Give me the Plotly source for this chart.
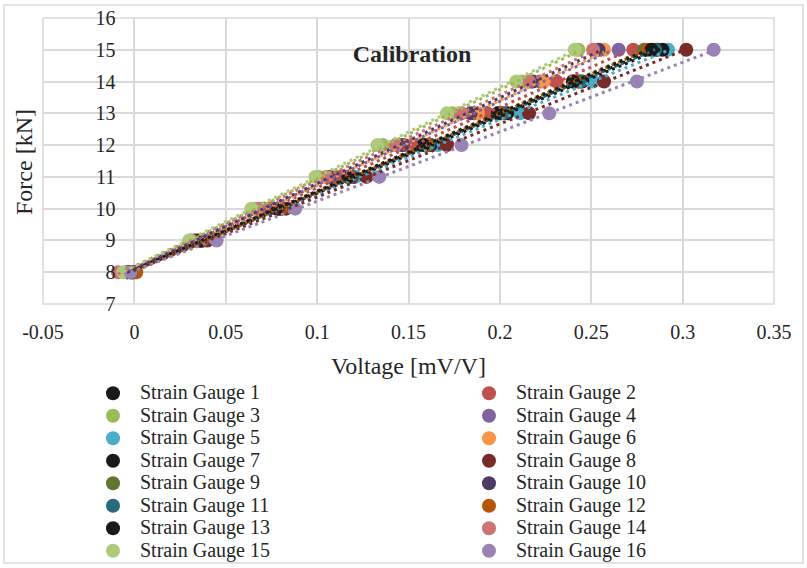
import numpy as np
import plotly.graph_objects as go

force_kN = [8, 9, 10, 11, 12, 13, 14, 15]

x_tick_vals = [-0.05, 0, 0.05, 0.1, 0.15, 0.2, 0.25, 0.3, 0.35]
x_tick_text = ["-0.05", "0", "0.05", "0.1", "0.15", "0.2", "0.25", "0.3", "0.35"]

gauge_names = [f"Strain Gauge {i}" for i in range(1, 17)]
sg1 = [-0.001, 0.036, 0.079, 0.118, 0.160, 0.201, 0.243, 0.286]
sg2 = [-0.004, 0.035, 0.074, 0.112, 0.152, 0.193, 0.231, 0.273]
sg3 = [-0.004, 0.031, 0.066, 0.101, 0.136, 0.174, 0.212, 0.243]
sg4 = [-0.003, 0.034, 0.071, 0.108, 0.146, 0.186, 0.222, 0.265]
sg5 = [-0.001, 0.038, 0.081, 0.121, 0.166, 0.211, 0.251, 0.292]
sg6 = [-0.001, 0.034, 0.071, 0.107, 0.148, 0.188, 0.224, 0.257]
sg7 = [0.000, 0.037, 0.080, 0.119, 0.162, 0.204, 0.245, 0.289]
sg8 = [-0.001, 0.040, 0.083, 0.127, 0.171, 0.216, 0.257, 0.302]
sg9 = [-0.002, 0.036, 0.078, 0.117, 0.159, 0.199, 0.240, 0.279]
sg10 = [-0.004, 0.033, 0.070, 0.107, 0.147, 0.184, 0.218, 0.254]
sg11 = [-0.002, 0.037, 0.079, 0.119, 0.161, 0.202, 0.244, 0.285]
sg12 = [0.001, 0.037, 0.080, 0.118, 0.160, 0.200, 0.241, 0.281]
sg13 = [-0.002, 0.036, 0.078, 0.117, 0.158, 0.199, 0.240, 0.283]
sg14 = [-0.009, 0.031, 0.068, 0.105, 0.143, 0.179, 0.216, 0.251]
sg15 = [-0.006, 0.030, 0.064, 0.099, 0.133, 0.171, 0.209, 0.241]
sg16 = [-0.002, 0.045, 0.088, 0.134, 0.179, 0.227, 0.275, 0.317]
voltages = [sg1, sg2, sg3, sg4, sg5, sg6, sg7, sg8,
            sg9, sg10, sg11, sg12, sg13, sg14, sg15, sg16]

colors = ["#1a1a1a", "#C0504D", "#9BBB59", "#8064A2", "#4BACC6", "#F79646",
          "#1a1a1a", "#772C2A", "#5F7530", "#4D3B62", "#276A7C", "#B65708",
          "#1a1a1a", "#CD7371", "#AFC97A", "#9983B5"]

FONT = "Liberation Serif, Times New Roman, serif"
TXT = "#262626"
GRID = "#d9d9d9"

fig = go.Figure()
for i, (name, v, c) in enumerate(zip(gauge_names, voltages, colors)):
    fig.add_trace(go.Scatter(
        x=v, y=force_kN, mode="markers",
        name=f'<span style="font-size:20px">{name}</span>',
        legend="legend" if i % 2 == 0 else "legend2",
        marker=dict(size=14, color=c, line=dict(width=0)),
    ))
for name, v, c in zip(gauge_names, voltages, colors):
    m, b = np.polyfit(v, force_kN, 1)
    xs = np.array([min(v), max(v)])
    fig.add_trace(go.Scatter(
        x=xs, y=m * xs + b, mode="lines", showlegend=False, hoverinfo="skip",
        line=dict(color=c, width=3, dash="3px,4px"),
    ))

legend_common = dict(orientation="v", yanchor="top", xanchor="left",
                     y=(304 - 377) / 286, itemwidth=44,
                     font=dict(size=15, family=FONT, color=TXT),
                     bgcolor="rgba(0,0,0,0)", tracegroupgap=0)

fig.update_layout(
    width=807, height=568,
    template="none",
    paper_bgcolor="white", plot_bgcolor="white",
    margin=dict(l=43, r=33, t=18, b=264, autoexpand=False),
    font=dict(family=FONT, color=TXT, size=20),
    title=dict(text="<b>Calibration</b>", x=(412 - 43) / 731, xref="paper",
               y=(304 - 54) / 286, yref="paper", xanchor="center", yanchor="middle",
               font=dict(family=FONT, size=24, color=TXT)),
    xaxis=dict(range=[-0.05, 0.35], tickmode="array", tickvals=x_tick_vals,
               ticktext=x_tick_text, showgrid=True, gridcolor=GRID,
               gridwidth=1.5, zeroline=True, zerolinecolor=GRID, zerolinewidth=1.5,
               showline=False, ticks="", ticklabelstandoff=14,
               tickfont=dict(size=20, family=FONT, color=TXT),
               title=dict(text="Voltage [mV/V]", standoff=15,
                          font=dict(size=24, family=FONT, color=TXT)),
               automargin=False),
    yaxis=dict(range=[7, 16], dtick=1, showgrid=True, gridcolor=GRID, gridwidth=1.5,
               zeroline=False, showline=False, ticks="", anchor="free", position=0.125,
               ticklabelstandoff=19, tickfont=dict(size=20, family=FONT, color=TXT),
               automargin=False),
    showlegend=True,
    legend=dict(x=(86 - 43) / 731, **legend_common),
    legend2=dict(x=(462 - 43) / 731, **legend_common),
    annotations=[dict(text="Force [kN]", xref="paper", yref="paper",
                      x=(24 - 43) / 731, y=(304 - 162) / 286, textangle=-90,
                      showarrow=False, xanchor="center", yanchor="middle",
                      font=dict(size=24, family=FONT, color=TXT))],
    shapes=[
        dict(type="rect", xref="paper", yref="paper", x0=0, x1=1, y0=0, y1=1,
             line=dict(color=GRID, width=1.5), layer="below"),
        dict(type="rect", xref="paper", yref="paper",
             x0=(4 - 43) / 731, x1=(803 - 43) / 731,
             y0=(304 - 563) / 286, y1=(304 - 5) / 286,
             line=dict(color=GRID, width=1.5), layer="below"),
    ],
)

fig.write_html("out.html", config={"displayModeBar": False},
               post_script="document.body.style.margin='0';")
